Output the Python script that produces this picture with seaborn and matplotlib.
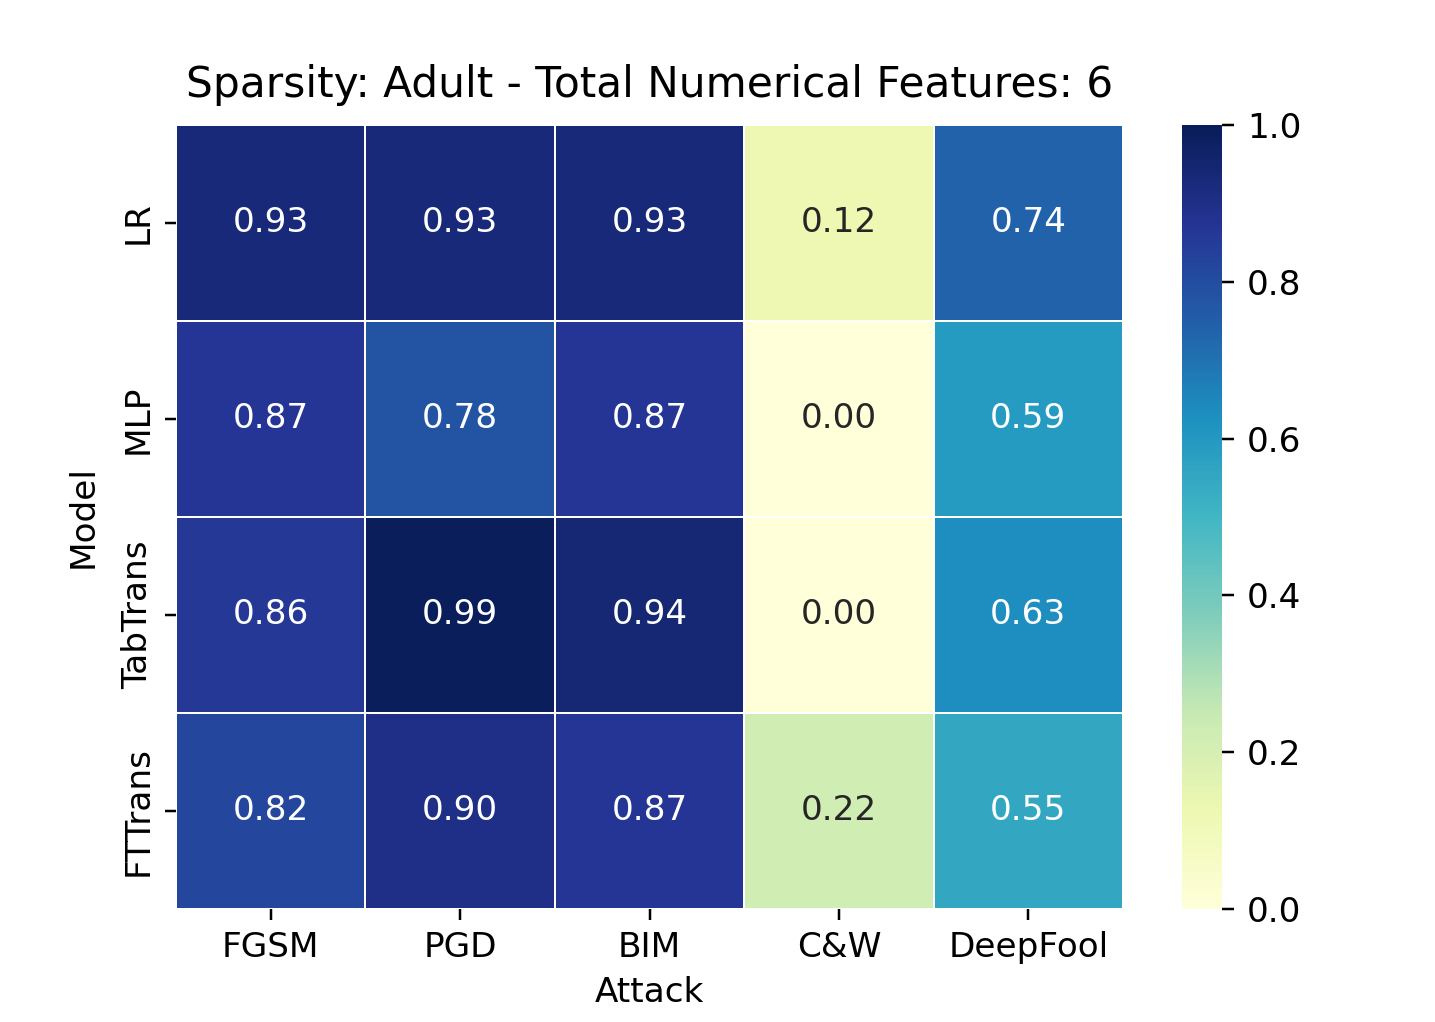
import numpy as np
import pandas as pd
import matplotlib
matplotlib.use("Agg")
import matplotlib.pyplot as plt
import seaborn as sns

# Datos
modelos = ["LR", "MLP", "TabTrans", "FTTrans"]
ataques = ["FGSM", "PGD", "BIM", "C&W", "DeepFool"]
fila_lr = [0.93, 0.93, 0.93, 0.12, 0.74]
fila_mlp = [0.87, 0.78, 0.87, 0.00, 0.59]
fila_tabtrans = [0.86, 0.99, 0.94, 0.00, 0.63]
fila_fttrans = [0.82, 0.90, 0.87, 0.22, 0.55]

tabla = pd.DataFrame([fila_lr, fila_mlp, fila_tabtrans, fila_fttrans],
                     index=modelos, columns=ataques)

fig = plt.figure(figsize=(1435 / 224, 1022 / 224), dpi=224)
ax = fig.add_axes([0.1227, 0.1106, 0.6599, 0.7671])
cax = fig.add_axes([0.8237, 0.1106, 0.0279, 0.7671])

sns.heatmap(tabla, ax=ax, cbar_ax=cax, cmap="YlGnBu", vmin=0, vmax=1,
            annot=True, fmt=".2f", linewidths=0.5, linecolor="white",
            annot_kws={"fontsize": 11})

ax.set_title("Sparsity: Adult - Total Numerical Features: 6",
             fontsize=13.6, pad=9)
ax.set_xlabel("Attack", fontsize=11)
ax.set_ylabel("Model", fontsize=11, labelpad=7)
ax.tick_params(axis="both", labelsize=11)
cax.tick_params(labelsize=11, length=4, pad=4)

fig.savefig("out.png", dpi=224)
